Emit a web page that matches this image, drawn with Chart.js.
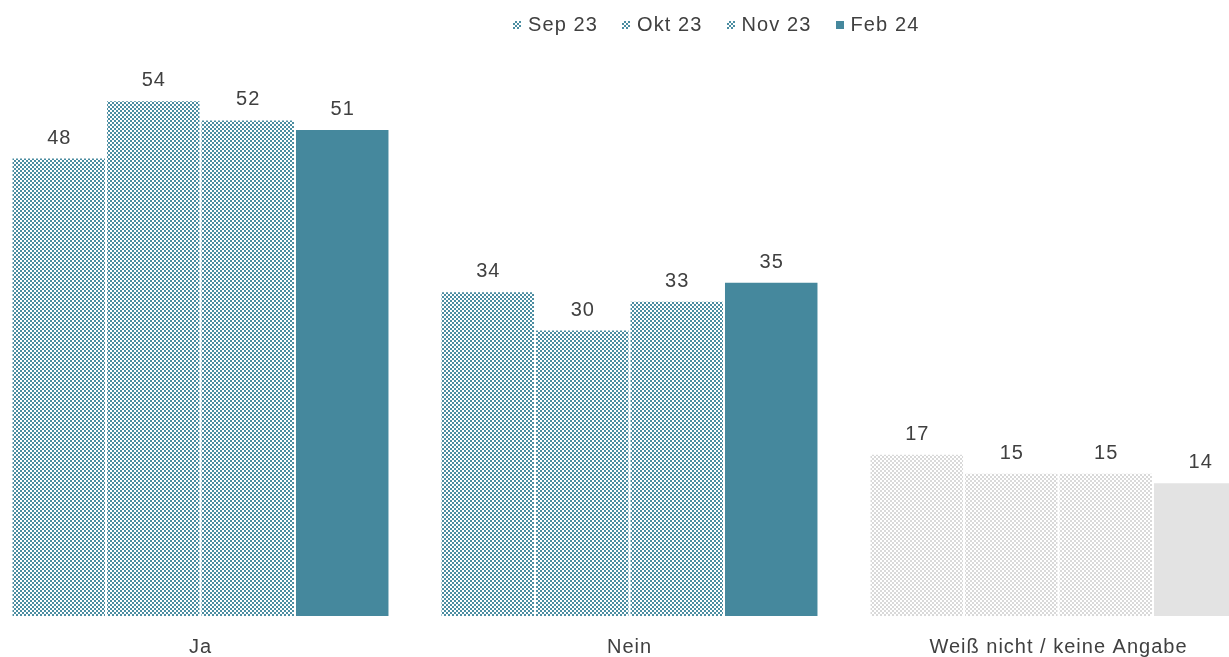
<!DOCTYPE html>
<html>
<head>
<meta charset="utf-8">
<script src="https://cdn.jsdelivr.net/npm/chart.js@4"></script>
<style>
  html, body { margin: 0; padding: 0; background: #fff; overflow: hidden; width: 1229px; height: 657px; }
  #wrap { position: absolute; left: -14px; top: 0; width: 1287px; height: 678px; }
  #legend { position: absolute; left: 513px; top: 13px; display: flex; gap: 24px;
    font: 20px 'Liberation Sans', Arial, sans-serif; letter-spacing: 1.1px; color: #404040; }
  #legend .item { display: flex; align-items: center; gap: 7px; }
  #legend .box { width: 8px; height: 8px; }
</style>
</head>
<body>
<div id="wrap"><canvas id="chart"></canvas></div>
<div id="legend"></div>
<script>
const categories = ['Ja', 'Nein', 'Weiß nicht / keine Angabe'];
const seriesNames = ['Sep 23', 'Okt 23', 'Nov 23', 'Feb 24'];
const sep23 = [48, 34, 17];
const okt23 = [54, 30, 15];
const nov23 = [52, 33, 15];
const feb24 = [51, 35, 14];

const TEAL = '#45889d';
const GREY = '#e3e3e3';

// kleines Schachbrettmuster fuer die alten Wellen
const makePattern = (fg) => {
  const c = document.createElement('canvas');
  c.width = 4; c.height = 4;
  const g = c.getContext('2d');
  g.fillStyle = '#fff';
  g.fillRect(0, 0, 4, 4);
  g.fillStyle = fg;
  g.fillRect(0, 0, 2, 2);
  g.fillRect(2, 2, 2, 2);
  return g.createPattern(c, 'repeat');
};

const ctx = document.getElementById('chart').getContext('2d');
const tealPattern = makePattern('#4b8da1');
const greyPattern = makePattern('#d9d9d9');

const patternFill = (c) => c.dataIndex === 2 ? greyPattern : tealPattern;
const solidFill = (c) => c.dataIndex === 2 ? GREY : TEAL;

const valueLabels = {
  id: 'valueLabels',
  beforeDraw: (chart) => { chart.ctx.letterSpacing = '1px'; },
  afterDatasetsDraw: (chart) => {
    const c = chart.ctx;
    c.save();
    c.font = "20px 'Liberation Sans', Arial, sans-serif";
    c.fillStyle = '#404040';
    c.textAlign = 'center';
    c.textBaseline = 'alphabetic';
    chart.data.datasets.forEach((ds, i) => {
      chart.getDatasetMeta(i).data.forEach((bar, j) => {
        c.fillText(String(ds.data[j]), bar.x + 0.5, bar.y - 14);
      });
    });
    c.restore();
  }
};

Chart.defaults.font.family = "'Liberation Sans', Arial, sans-serif";
Chart.defaults.font.size = 20;
Chart.defaults.color = '#404040';

const seriesData = [sep23, okt23, nov23, feb24];

const chart = new Chart(ctx, {
  type: 'bar',
  data: {
    labels: categories,
    datasets: seriesData.map((d, i) => ({
      label: seriesNames[i],
      data: d,
      backgroundColor: i < 3 ? patternFill : solidFill,
      borderColor: '#ffffff',
      borderWidth: 1,
      borderSkipped: 'start',
      barPercentage: 1,
      categoryPercentage: 0.881
    }))
  },
  options: {
    responsive: true,
    maintainAspectRatio: false,
    animation: false,
    layout: { padding: { top: 43, left: 0, right: 0, bottom: 0 } },
    scales: {
      x: {
        grid: { display: false, drawTicks: false },
        border: { display: false },
        ticks: { padding: 19, font: { size: 20 } }
      },
      y: {
        display: false,
        min: 0,
        max: 60
      }
    },
    plugins: {
      legend: { display: false },
      tooltip: { enabled: false }
    }
  },
  plugins: [valueLabels]
});

// Legende als HTML
const legend = document.getElementById('legend');
seriesNames.forEach((name, i) => {
  const item = document.createElement('div');
  item.className = 'item';
  const box = document.createElement('span');
  box.className = 'box';
  box.style.background = i < 3
    ? 'repeating-conic-gradient(#4b8da1 0 25%, #fff 0 50%) 0 0 / 4px 4px'
    : TEAL;
  const txt = document.createElement('span');
  txt.textContent = name;
  item.appendChild(box);
  item.appendChild(txt);
  legend.appendChild(item);
});
</script>
</body>
</html>
